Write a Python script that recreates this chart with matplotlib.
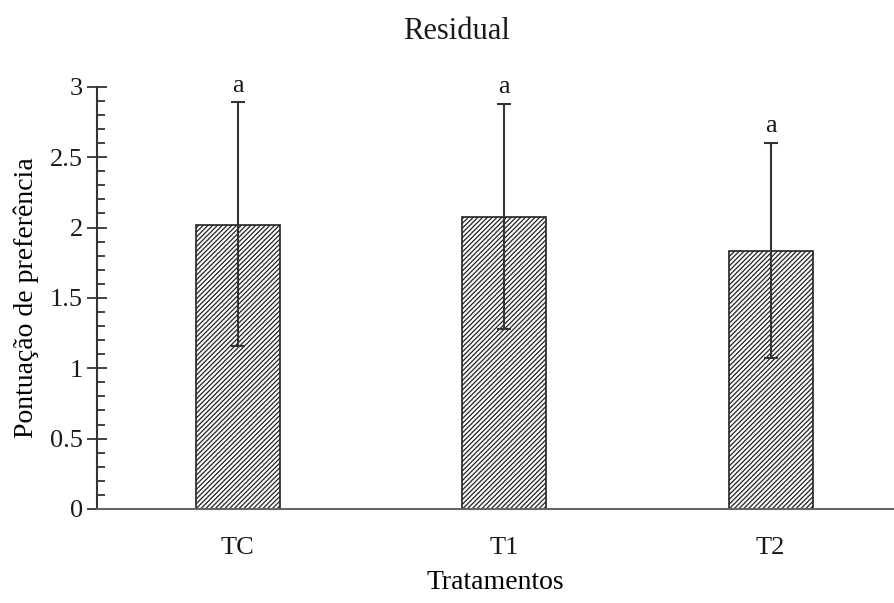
import numpy as np
import matplotlib.pyplot as plt

plt.rcParams['font.family'] = ['Liberation Serif', 'DejaVu Serif']
plt.rcParams['hatch.linewidth'] = 0.9
plt.rcParams['hatch.color'] = '#555555'
plt.rcParams['text.color'] = '#1a1a1a'

# Dados
tratamentos = ["TC", "T1", "T2"]
medias = [2.02, 2.075, 1.83]
erro_sup = [2.89, 2.88, 2.60]
erro_inf = [1.16, 1.28, 1.07]
letras = ["a", "a", "a"]
yticks = [0, 0.5, 1, 1.5, 2, 2.5, 3]
yticklabels = ["0", "0.5", "1", "1.5", "2", "2.5", "3"]

x = np.arange(len(tratamentos))
err = [np.array(medias) - np.array(erro_inf), np.array(erro_sup) - np.array(medias)]

fig = plt.figure(figsize=(8.95, 6.03), dpi=100)
ax = fig.add_axes([0.108, 0.156, 0.89, 0.700])

ax.bar(x, medias, width=0.316, color='white', edgecolor='#222222',
       linewidth=1.2, hatch='///////', zorder=2)
ax.errorbar(x, medias, yerr=err, fmt='none', ecolor='#333333',
            elinewidth=1.5, capsize=5, capthick=1.5, zorder=3)

for xi, top, l in zip(x, erro_sup, letras):
    ax.text(xi, top + 0.04, l, ha='center', va='bottom', fontsize=19)

ax.set_xlim(-0.53, 2.46)
ax.set_ylim(0, 3)
ax.set_xticks(x)
ax.set_xticklabels(tratamentos, fontsize=19)
ax.set_yticks(yticks)
ax.set_yticklabels(yticklabels, fontsize=19)
ax.set_yticks(np.arange(0, 3.01, 0.1), minor=True)
ax.tick_params(axis='y', which='major', direction='inout', length=14, width=1.3,
               color='#333333', labelcolor='#1a1a1a', pad=3)
ax.tick_params(axis='y', which='minor', direction='in', length=6, width=1.3, color='#333333')
ax.tick_params(axis='x', length=0, pad=20, labelcolor='#1a1a1a')

for s in ['top', 'right']:
    ax.spines[s].set_visible(False)
ax.spines['left'].set_linewidth(1.5)
ax.spines['left'].set_color('#333333')
ax.spines['bottom'].set_linewidth(1.5)
ax.spines['bottom'].set_color('#666666')

fig.text(0.51, 0.947, "Residual", ha='center', va='center', fontsize=22)
ax.set_xlabel("Tratamentos", fontsize=20, labelpad=8)
ax.set_ylabel("Pontuação de preferência", fontsize=20, labelpad=8)

plt.savefig("out.png", dpi=100)
